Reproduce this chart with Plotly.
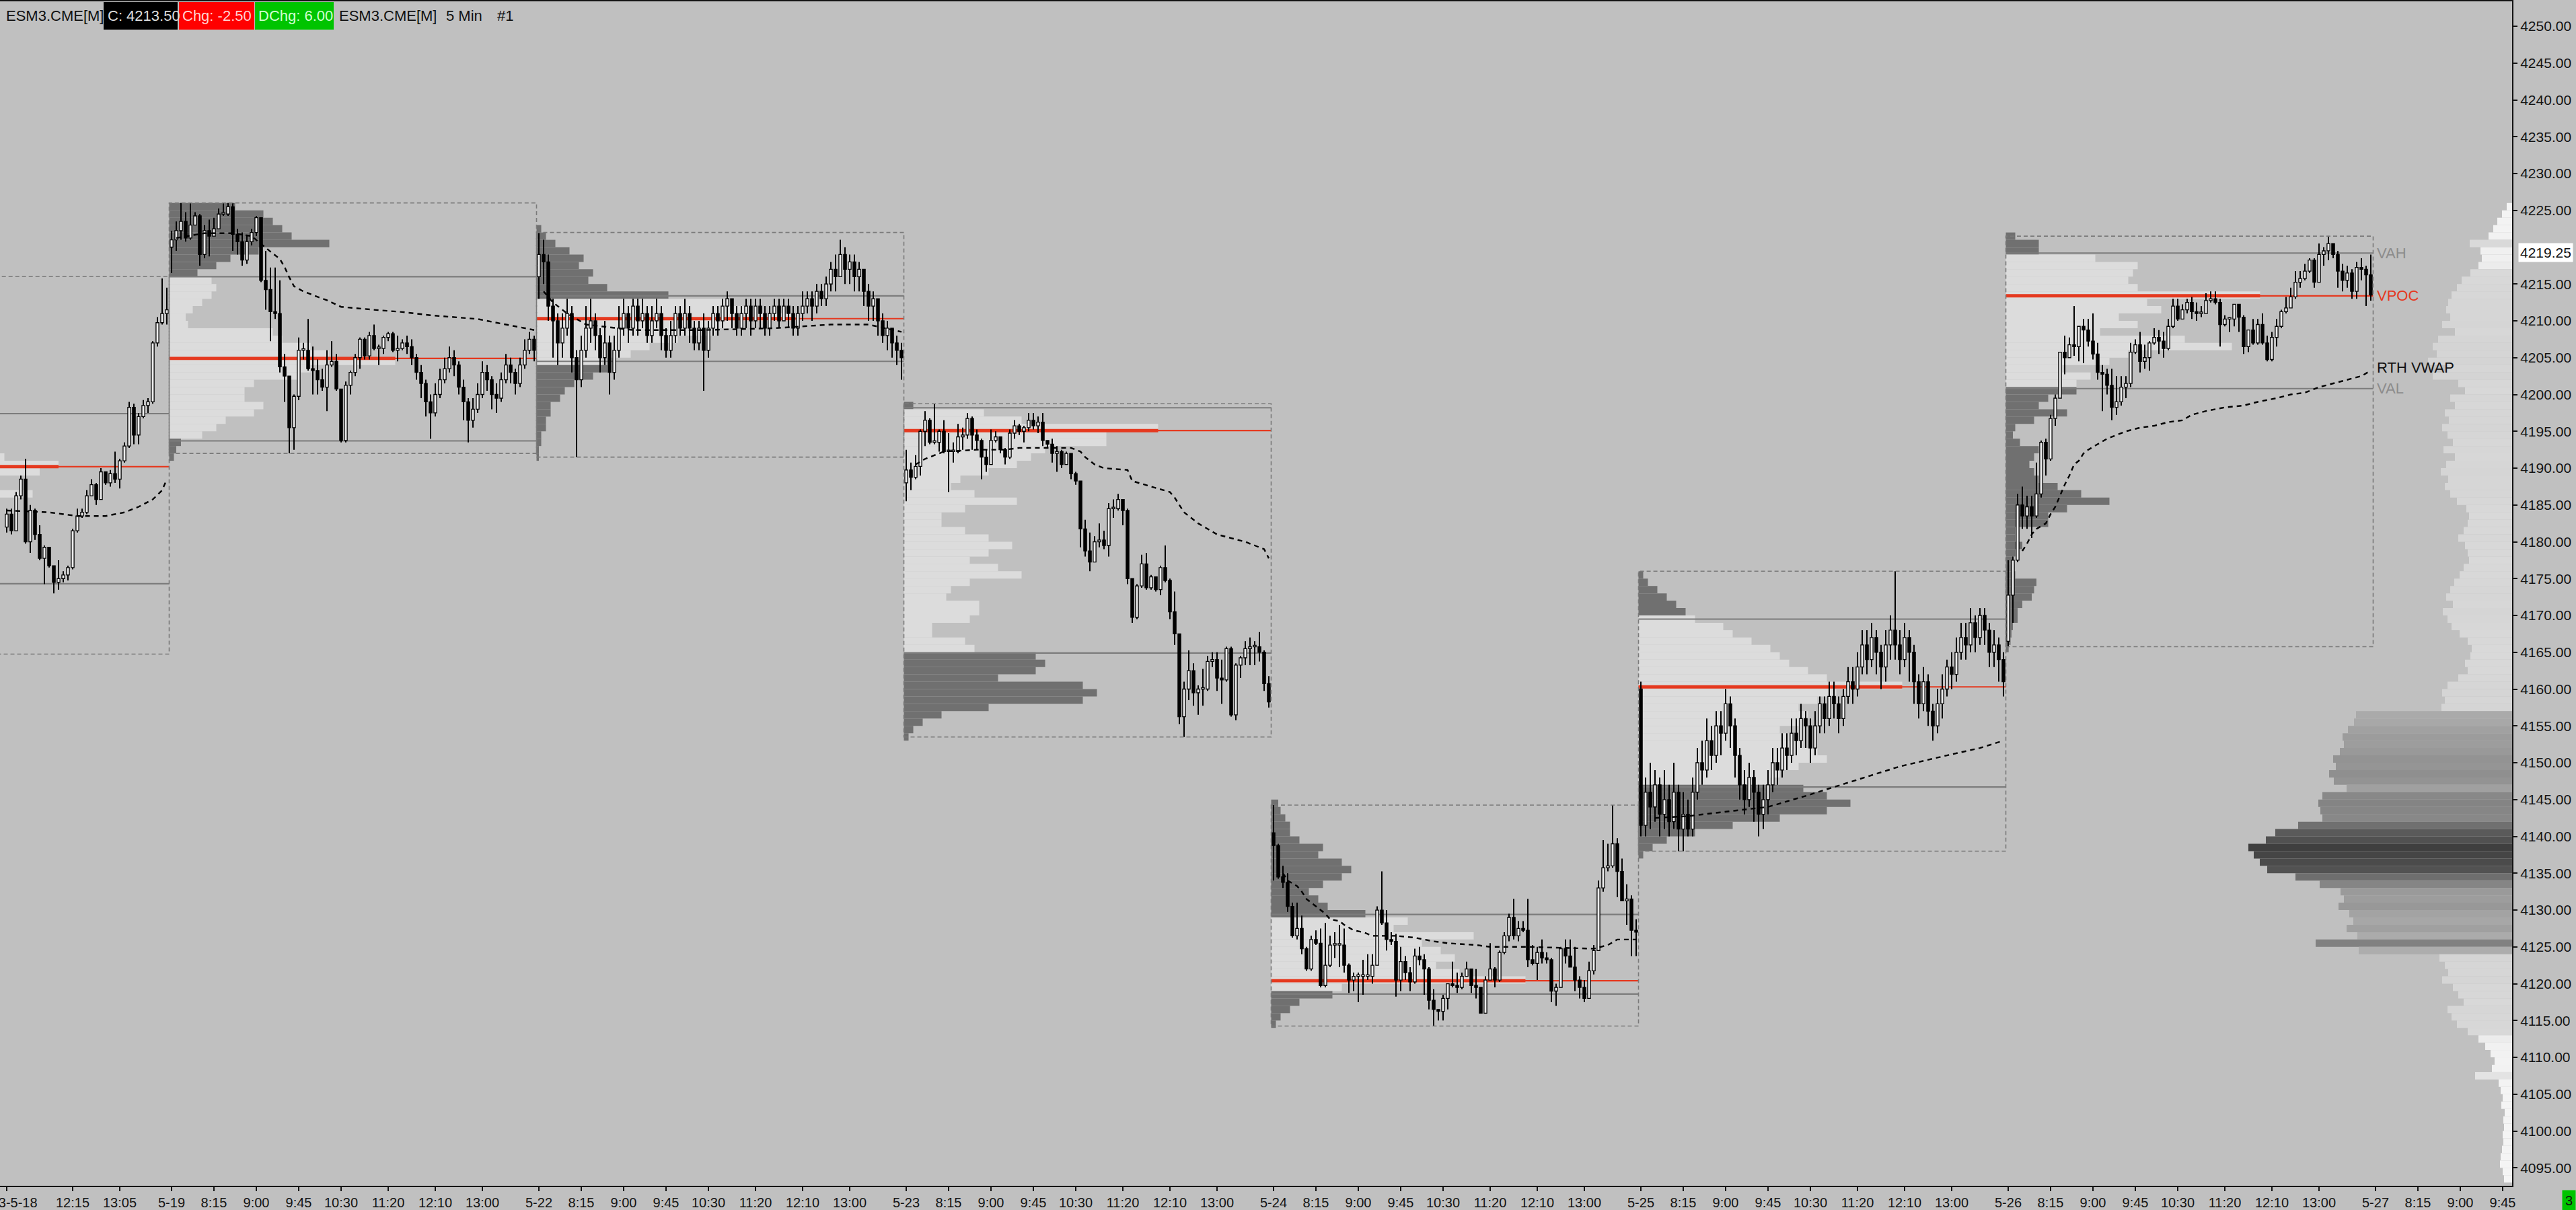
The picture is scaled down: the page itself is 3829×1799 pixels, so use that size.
import plotly.graph_objects as go

# ---------------------------------------------------------------- data
# x axis = 5-minute bar index, bar 0 = 2023-05-19 07:30 (RTH 07:30-14:00, 78 bars per session)
sess_label = ["5-18", "5-19", "5-22", "5-23", "5-24", "5-25", "5-26"]
sess_start = [-78, 0, 78, 156, 234, 312, 390]

# 5-18 (only 11:05-13:55 visible, bars -35..-1)
open0_0518 = 4182.0
close_0518 = [4183.75, 4181.5, 4186.25, 4188.5, 4180.0, 4184.25, 4181.0, 4177.75, 4179.25, 4176.75, 4174.5, 4175.0,
              4175.5, 4176.5, 4181.5, 4183.5, 4184.0, 4186.25, 4187.75, 4185.75, 4189.5, 4188.0, 4189.25, 4188.5,
              4191.0, 4193.0, 4198.25, 4194.5, 4197.0, 4198.5, 4199.0, 4207.0, 4209.75, 4211.0, 4211.5]
high_0518 = [4184.5, 4184.5, 4186.75, 4189.0, 4191.25, 4185.0, 4184.5, 4182.25, 4179.5, 4179.25, 4176.75, 4177.5,
             4176.0, 4176.75, 4181.75, 4184.5, 4184.5, 4187.0, 4188.5, 4188.0, 4190.0, 4189.5, 4189.75, 4192.25,
             4191.25, 4193.5, 4199.0, 4198.75, 4197.5, 4199.25, 4199.5, 4207.25, 4210.5, 4215.75, 4214.5]
low_0518 = [4181.25, 4181.0, 4181.5, 4185.75, 4179.75, 4178.5, 4180.25, 4177.5, 4174.25, 4176.5, 4173.0, 4173.5,
            4174.5, 4174.75, 4176.25, 4181.25, 4183.25, 4183.75, 4186.25, 4185.0, 4185.75, 4187.75, 4187.5, 4188.0,
            4187.25, 4190.75, 4192.75, 4193.25, 4193.25, 4196.75, 4197.5, 4198.75, 4206.5, 4209.5, 4209.5]

open0_0519 = 4220.0
close_0519 = [4221.0, 4222.25, 4223.5, 4221.25, 4223.0, 4224.25, 4219.0, 4222.25, 4221.5, 4222.5,
              4224.5, 4224.5, 4225.5, 4221.75, 4220.75, 4218.25, 4220.75, 4222.0, 4224.0, 4215.5,
              4214.25, 4211.25, 4211.0, 4203.75, 4202.5, 4195.5, 4199.75, 4206.0, 4206.0, 4203.5,
              4203.25, 4202.0, 4201.0, 4204.0, 4204.5, 4200.75, 4193.75, 4201.25, 4203.0, 4205.0,
              4207.5, 4205.25, 4208.0, 4206.25, 4206.25, 4207.75, 4208.25, 4206.0, 4206.25, 4207.0,
              4206.5, 4205.0, 4203.0, 4201.5, 4199.0, 4197.5, 4200.0, 4202.0, 4203.5, 4205.0,
              4204.0, 4201.0, 4199.0, 4196.5, 4198.0, 4200.0, 4203.0, 4202.0, 4200.0, 4199.5,
              4202.0, 4204.0, 4203.0, 4201.5, 4204.0, 4206.0, 4207.5, 4206.0]
high_0519 = [4222.25, 4223.5, 4226.0, 4224.75, 4226.0, 4224.75, 4224.5, 4223.0, 4223.75, 4224.0,
             4225.25, 4226.0, 4226.0, 4226.0, 4222.5, 4222.0, 4221.5, 4222.5, 4224.25, 4224.0,
             4219.5, 4217.25, 4217.25, 4215.5, 4205.5, 4202.5, 4200.0, 4207.75, 4207.0, 4210.25,
             4206.5, 4204.75, 4203.5, 4206.0, 4207.25, 4205.5, 4200.5, 4201.75, 4203.25, 4205.5,
             4207.75, 4207.75, 4208.5, 4209.5, 4206.75, 4208.0, 4208.5, 4208.5, 4208.0, 4207.5,
             4208.0, 4207.5, 4205.5, 4204.0, 4202.0, 4200.0, 4201.5, 4203.5, 4205.0, 4206.5,
             4206.0, 4204.5, 4202.0, 4199.5, 4199.5, 4201.5, 4204.5, 4204.0, 4202.5, 4201.5,
             4203.0, 4205.5, 4205.0, 4203.5, 4205.0, 4207.5, 4208.5, 4208.0]
low_0519 = [4216.5, 4219.5, 4221.0, 4220.75, 4221.0, 4223.0, 4217.5, 4218.5, 4218.75, 4222.0,
            4223.0, 4224.25, 4224.25, 4219.5, 4219.0, 4217.5, 4217.75, 4220.25, 4221.5, 4215.25,
            4211.5, 4207.25, 4210.25, 4203.0, 4199.0, 4192.0, 4192.5, 4199.25, 4204.75, 4203.25,
            4200.0, 4200.0, 4200.5, 4197.75, 4203.75, 4200.5, 4193.5, 4193.5, 4200.0, 4202.5,
            4203.5, 4204.75, 4204.75, 4206.0, 4204.0, 4205.5, 4207.25, 4205.75, 4204.5, 4206.0,
            4205.5, 4204.0, 4202.0, 4199.5, 4197.0, 4194.0, 4197.0, 4199.5, 4201.5, 4203.0,
            4202.5, 4200.0, 4196.5, 4193.5, 4195.5, 4197.5, 4199.5, 4200.5, 4198.0, 4197.5,
            4199.0, 4201.5, 4201.5, 4200.0, 4201.0, 4203.5, 4205.5, 4204.5]

open0_0522 = 4216.0
close_0522 = [4219, 4218, 4212, 4210, 4207, 4209, 4211, 4205, 4202, 4206,
              4209, 4210, 4208, 4205, 4207, 4203, 4206, 4209, 4211, 4209,
              4212, 4210, 4211, 4208, 4210, 4211, 4208, 4206, 4208, 4211,
              4209, 4211, 4209, 4207, 4209, 4206, 4209, 4211, 4210, 4212,
              4213, 4211, 4209, 4211, 4212, 4210, 4212, 4211, 4209, 4211,
              4212, 4210, 4212, 4211, 4209, 4211, 4212, 4213, 4212, 4214,
              4213, 4215, 4217, 4216, 4219, 4217, 4218, 4216, 4217, 4214,
              4212, 4213, 4210, 4208, 4209, 4207, 4206, 4205]
high_0522 = [4222, 4221, 4219, 4213, 4211, 4211, 4213, 4212, 4206, 4208,
             4212, 4213, 4211, 4209, 4210, 4208, 4208, 4212, 4213, 4212,
             4213, 4213, 4213, 4212, 4212, 4213, 4212, 4209, 4210, 4212,
             4212, 4213, 4212, 4210, 4210, 4211, 4210, 4212, 4212, 4213,
             4214, 4213, 4212, 4212, 4213, 4213, 4213, 4213, 4212, 4212,
             4213, 4213, 4213, 4213, 4212, 4212, 4214, 4214, 4214, 4215,
             4215, 4216, 4218, 4219, 4221, 4220, 4219, 4219, 4218, 4217,
             4215, 4214, 4213, 4211, 4210, 4209, 4208, 4207]
low_0522 = [4213, 4215, 4210, 4205, 4204, 4205, 4208, 4203, 4191.5, 4201,
            4205, 4207, 4206, 4203, 4204, 4200, 4202, 4205, 4208, 4207,
            4208, 4208, 4209, 4207, 4207, 4209, 4206, 4205, 4205, 4207,
            4208, 4208, 4207, 4206, 4206, 4200.5, 4205, 4208, 4208, 4209,
            4210, 4209, 4208, 4208, 4209, 4208, 4209, 4209, 4208, 4208,
            4210, 4209, 4210, 4209, 4208, 4208, 4210, 4211, 4210, 4211,
            4212, 4212, 4214, 4214, 4216, 4215, 4215, 4214, 4214, 4212,
            4210, 4210, 4208, 4207, 4206, 4205, 4204, 4202]

open0_0523 = 4188.0
close_0523 = [4189.75, 4188.75, 4190.25, 4195.0, 4196.5, 4193.5, 4193.5, 4195.0, 4192.25, 4192.25,
              4192.25, 4194.25, 4194.5, 4196.75, 4194.5, 4193.75, 4191.5, 4190.5, 4193.75, 4194.25,
              4192.5, 4191.5, 4194.75, 4195.75, 4195.0, 4195.5, 4196.5, 4195.75, 4196.25, 4193.75,
              4193.25, 4192.0, 4192.25, 4190.5, 4192.0, 4189.25, 4188.25, 4181.75, 4178.75, 4177.25,
              4180.0, 4180.25, 4179.5, 4184.5, 4184.5, 4185.75, 4184.25, 4175.0, 4169.75, 4174.0,
              4177.0, 4173.75, 4175.25, 4173.5, 4176.5, 4174.75, 4170.5, 4167.5, 4156.25, 4160.0,
              4162.5, 4159.5, 4160.0, 4160.0, 4163.75, 4164.0, 4161.5, 4161.25, 4165.5, 4156.5,
              4163.25, 4164.25, 4165.5, 4165.75, 4165.75, 4165.0, 4160.75, 4158.25]
high_0523 = [4192.5, 4190.75, 4191.75, 4195.25, 4197.75, 4196.75, 4198.75, 4195.25, 4196.5, 4194.75,
             4193.5, 4196.0, 4195.5, 4197.5, 4197.0, 4195.25, 4194.0, 4192.5, 4195.25, 4195.0,
             4194.25, 4192.75, 4195.25, 4196.5, 4196.0, 4195.75, 4197.5, 4197.5, 4197.0, 4197.5,
             4193.5, 4194.0, 4193.0, 4192.5, 4192.25, 4191.75, 4189.5, 4188.25, 4183.0, 4181.25,
             4180.75, 4182.5, 4181.5, 4185.25, 4185.75, 4186.5, 4185.75, 4184.5, 4174.75, 4174.25,
             4178.25, 4178.5, 4175.5, 4175.25, 4176.75, 4179.5, 4175.0, 4173.25, 4167.25, 4161.0,
             4165.25, 4163.5, 4160.5, 4162.75, 4164.5, 4165.0, 4165.0, 4164.0, 4165.75, 4165.75,
             4163.5, 4164.5, 4166.5, 4167.0, 4166.5, 4167.75, 4165.25, 4161.75]
low_0523 = [4185.5, 4187.0, 4188.5, 4189.0, 4193.0, 4193.25, 4193.25, 4192.25, 4192.0, 4186.75,
            4190.75, 4192.0, 4192.5, 4194.0, 4192.5, 4192.5, 4188.5, 4189.5, 4190.5, 4193.5,
            4192.0, 4190.5, 4191.25, 4194.0, 4194.5, 4193.5, 4195.0, 4195.25, 4194.75, 4193.0,
            4192.75, 4190.75, 4189.5, 4190.0, 4190.5, 4188.5, 4187.75, 4179.25, 4178.0, 4176.0,
            4177.25, 4179.25, 4179.0, 4178.0, 4183.25, 4184.25, 4182.25, 4174.25, 4169.0, 4169.5,
            4173.75, 4173.5, 4173.5, 4173.25, 4172.75, 4174.5, 4169.5, 4166.0, 4155.25, 4153.5,
            4158.5, 4157.75, 4156.5, 4157.75, 4159.75, 4163.0, 4159.75, 4158.0, 4161.0, 4156.25,
            4155.75, 4161.5, 4163.25, 4163.25, 4163.25, 4163.75, 4159.75, 4157.5]

open0_0524 = 4140.5
close_0524 = [4138.75, 4134.5, 4133.75, 4130.5, 4126.5, 4127.5, 4124.75, 4122.0, 4126.0, 4125.5,
              4119.75, 4122.5, 4125.25, 4125.25, 4125.25, 4122.5, 4120.5, 4121.0, 4121.0, 4121.0,
              4121.0, 4122.5, 4130.0, 4128.25, 4126.0, 4125.75, 4120.5, 4123.0, 4121.5, 4120.25,
              4123.75, 4123.25, 4122.0, 4117.75, 4116.5, 4116.25, 4118.0, 4120.0, 4119.75, 4119.5,
              4121.0, 4122.0, 4119.75, 4119.5, 4116.0, 4120.5, 4122.0, 4120.5, 4124.25, 4126.5,
              4129.0, 4126.5, 4127.5, 4127.25, 4123.25, 4122.75, 4124.25, 4123.5, 4123.25, 4119.0,
              4119.5, 4124.75, 4123.75, 4122.25, 4120.5, 4119.5, 4118.0, 4121.75, 4124.5, 4133.0,
              4135.75, 4136.0, 4139.0, 4135.25, 4131.25, 4131.5, 4127.25, 4127.0]
high_0524 = [4144.25, 4139.0, 4136.0, 4135.0, 4131.0, 4131.0, 4129.25, 4125.0, 4126.5, 4127.25,
             4127.5, 4128.25, 4126.5, 4127.0, 4128.0, 4127.5, 4122.75, 4121.5, 4121.5, 4123.25,
             4124.0, 4124.0, 4130.5, 4135.25, 4130.0, 4127.0, 4126.75, 4125.0, 4123.75, 4122.25,
             4124.75, 4125.0, 4124.0, 4122.25, 4119.25, 4116.25, 4118.5, 4120.0, 4123.0, 4121.5,
             4121.5, 4123.0, 4122.0, 4122.0, 4119.5, 4121.0, 4125.5, 4122.25, 4124.5, 4127.0,
             4129.5, 4131.5, 4128.5, 4128.5, 4131.5, 4125.25, 4125.0, 4126.0, 4124.25, 4123.5,
             4120.0, 4125.0, 4126.0, 4126.0, 4125.0, 4121.0, 4120.5, 4123.0, 4125.25, 4134.0,
             4139.5, 4139.0, 4144.25, 4139.75, 4137.0, 4133.5, 4132.0, 4128.75]
low_0524 = [4134.0, 4134.25, 4133.0, 4129.75, 4126.25, 4126.0, 4124.0, 4121.75, 4121.75, 4125.25,
            4119.5, 4119.5, 4122.25, 4123.5, 4122.25, 4121.5, 4118.75, 4119.0, 4117.5, 4118.5,
            4120.5, 4120.0, 4122.5, 4128.0, 4124.5, 4125.25, 4118.25, 4119.0, 4120.5, 4119.0,
            4120.0, 4122.5, 4118.5, 4116.5, 4114.25, 4115.0, 4115.0, 4116.5, 4119.5, 4118.75,
            4119.25, 4121.25, 4118.75, 4118.0, 4116.0, 4116.0, 4120.5, 4119.5, 4120.25, 4124.0,
            4125.75, 4126.0, 4125.75, 4127.0, 4122.25, 4122.5, 4120.5, 4122.75, 4122.75, 4117.5,
            4117.0, 4120.0, 4122.75, 4122.25, 4119.0, 4118.0, 4117.5, 4118.0, 4121.25, 4124.5,
            4132.5, 4135.25, 4135.75, 4131.75, 4131.25, 4128.0, 4123.75, 4123.75]

open0_0525 = 4160.0
close_0525 = [4141.5, 4146, 4144, 4147, 4143, 4145, 4142, 4146, 4141, 4143,
              4141, 4146, 4150, 4149, 4153, 4151, 4155, 4154, 4158, 4155,
              4151, 4147, 4145, 4148, 4146, 4143, 4145, 4147, 4150, 4149,
              4152, 4151, 4154, 4153, 4156, 4155, 4152, 4155, 4158, 4156,
              4159, 4158, 4156, 4159, 4161, 4160, 4163, 4166, 4164, 4167,
              4165, 4163, 4166, 4168, 4166, 4164, 4167, 4165, 4161, 4158,
              4161, 4157, 4155, 4158, 4160, 4163, 4162, 4165, 4167, 4166,
              4169, 4167, 4170, 4168, 4165, 4166, 4164, 4161]
high_0525 = [4161, 4148, 4150, 4149, 4148, 4149, 4147, 4150, 4147, 4146,
             4145, 4148, 4152, 4153, 4156, 4155, 4157, 4157, 4160, 4159,
             4156, 4152, 4149, 4150, 4149, 4147, 4147, 4149, 4152, 4152,
             4154, 4154, 4156, 4156, 4158, 4157, 4156, 4157, 4159, 4159,
             4161, 4161, 4159, 4160, 4163, 4163, 4165, 4168, 4168, 4169,
             4168, 4166, 4168, 4170, 4176, 4168, 4169, 4168, 4166, 4162,
             4163, 4162, 4158, 4160, 4162, 4164, 4165, 4167, 4169, 4169,
             4171, 4170, 4171, 4171, 4169, 4168, 4167, 4165]
low_0525 = [4140, 4140, 4141, 4142, 4140, 4141, 4140, 4141, 4138, 4138,
            4140, 4140, 4145, 4147, 4148, 4149, 4150, 4151, 4153, 4152,
            4148, 4145, 4143, 4144, 4142, 4140, 4141, 4143, 4146, 4147,
            4148, 4149, 4150, 4151, 4152, 4152, 4150, 4151, 4154, 4154,
            4155, 4156, 4154, 4155, 4158, 4158, 4159, 4162, 4162, 4163,
            4162, 4160, 4161, 4164, 4164, 4162, 4163, 4161, 4158, 4156,
            4157, 4155, 4153, 4154, 4156, 4159, 4160, 4161, 4164, 4164,
            4165, 4165, 4166, 4166, 4163, 4163, 4161, 4159]

open0_0526 = 4166.5
close_0526 = [4172.75, 4177.5, 4185.0, 4183.5, 4184.75, 4183.5, 4186.5, 4193.5, 4191.25, 4196.75,
              4199.5, 4205.75, 4205.0, 4206.75, 4206.5, 4209.25, 4208.75, 4207.25, 4205.5, 4203.0,
              4202.75, 4201.25, 4198.25, 4199.0, 4201.0, 4201.5, 4205.75, 4206.75, 4204.5, 4205.0,
              4207.0, 4207.75, 4207.25, 4206.25, 4209.25, 4212.0, 4210.25, 4211.5, 4212.5, 4211.25,
              4211.0, 4211.0, 4212.75, 4213.0, 4212.5, 4209.5, 4210.25, 4210.25, 4212.25, 4210.5,
              4206.5, 4208.75, 4207.0, 4209.5, 4207.0, 4204.75, 4207.75, 4209.25, 4211.25, 4211.75,
              4213.25, 4215.25, 4215.75, 4216.75, 4218.25, 4215.25, 4219.0, 4219.5, 4220.5, 4219.0,
              4216.75, 4215.5, 4216.5, 4214.0, 4217.25, 4217.0, 4216.25, 4213.5]
high_0526 = [4177.5, 4178.0, 4186.5, 4187.5, 4186.25, 4186.25, 4190.75, 4193.75, 4194.0, 4197.25,
             4200.0, 4205.75, 4208.0, 4207.75, 4212.0, 4209.25, 4210.25, 4210.25, 4211.0, 4207.0,
             4204.0, 4203.5, 4203.5, 4202.5, 4202.5, 4202.5, 4207.0, 4207.5, 4208.5, 4206.75,
             4207.25, 4209.0, 4208.75, 4208.5, 4210.25, 4213.0, 4213.0, 4212.25, 4213.0, 4213.25,
             4212.5, 4212.0, 4213.75, 4214.0, 4214.0, 4213.0, 4210.75, 4210.5, 4212.25, 4212.25,
             4210.75, 4208.75, 4210.25, 4210.25, 4211.0, 4208.0, 4208.5, 4210.25, 4211.5, 4213.25,
             4214.5, 4216.75, 4216.75, 4217.75, 4218.5, 4218.5, 4220.5, 4220.0, 4221.5, 4220.5,
             4219.5, 4217.75, 4217.5, 4217.0, 4218.0, 4218.5, 4217.5, 4219.0]
low_0526 = [4165.75, 4169.0, 4177.25, 4181.75, 4181.75, 4180.5, 4183.25, 4186.0, 4189.0, 4191.0,
            4195.75, 4199.5, 4202.75, 4205.0, 4205.25, 4204.5, 4204.25, 4206.5, 4204.75, 4202.0,
            4197.75, 4200.0, 4196.5, 4197.25, 4198.5, 4199.5, 4201.0, 4205.5, 4203.0, 4203.5,
            4203.25, 4206.75, 4205.5, 4205.0, 4206.0, 4209.0, 4210.0, 4210.25, 4211.0, 4210.25,
            4210.0, 4210.5, 4211.0, 4212.5, 4212.25, 4206.5, 4209.25, 4208.5, 4209.25, 4208.5,
            4205.5, 4205.75, 4206.75, 4206.75, 4206.75, 4204.5, 4204.5, 4206.5, 4209.0, 4211.0,
            4211.75, 4213.0, 4214.5, 4215.5, 4216.5, 4214.5, 4215.25, 4217.5, 4218.25, 4218.5,
            4214.5, 4214.0, 4214.5, 4213.0, 4213.0, 4215.5, 4212.0, 4212.75]

# session value area / volume point of control
vah = [4197.4, 4216.0, 4213.4, 4198.2, 4129.4, 4169.5, 4219.2]
vpoc = [4190.2, 4204.9, 4210.3, 4195.1, 4120.4, 4160.3, 4213.4]
val = [4174.3, 4193.7, 4204.5, 4164.9, 4118.6, 4146.7, 4200.8]
box_0518 = [4164.75, 4216.0]

# session volume profiles, 1-point rows, width in bars
prof_lv_0518 = [4191, 4190, 4189, 4186]
prof_w_0518 = [43, 54.5, 50.5, 49]
prof_lv_0519 = list(range(4225, 4190, -1))
prof_w_0519 = [14, 20, 22, 24, 26, 34, 19, 13, 10, 6, 9, 10, 9, 7, 5, 3.5, 4, 22, 24, 30,
               34, 48, 30, 28, 18, 16, 16, 20, 18, 12, 10, 7, 2.5, 1.5, 1]
prof_lv_0522 = list(range(4222, 4190, -1))
prof_w_0522 = [1, 2, 4, 7, 10, 9, 12, 11, 15, 28, 40, 47, 55, 44, 38, 30, 24, 20,
               14, 15, 12, 8, 6, 5, 3, 3, 2, 2, 1, 1, 0.5, 0.5]
prof_lv_0523 = list(range(4198, 4152, -1))
prof_w_0523 = [2, 17, 25, 54, 43, 43, 30, 27, 24, 18, 12, 10, 15, 24, 13, 8, 8, 13, 18, 23,
               18, 14, 20, 25, 14, 10, 9, 16, 16, 14, 6, 6, 13, 15, 28, 30, 28, 20, 38, 41,
               38, 18, 8, 4, 2, 1]
prof_lv_0524 = list(range(4144, 4113, -1))
prof_w_0524 = [1.5, 2, 3, 4, 4, 6, 11, 10, 15, 17, 15, 11, 8, 10, 12, 20, 29, 26, 43, 32,
               36, 39, 35, 40, 54, 15, 13, 6, 4, 2, 1]
prof_lv_0525 = list(range(4175, 4136, -1))
prof_w_0525 = [1, 2, 4, 6, 8, 10, 12, 18, 20, 24, 28, 30, 32, 36, 40, 56, 42, 38, 34, 36,
               34, 30, 32, 35, 38, 40, 34, 30, 28, 35, 40, 45, 40, 30, 20, 12, 6, 3, 1]
prof_lv_0526 = list(range(4221, 4164, -1))
prof_w_0526 = [2, 7, 7, 19, 28, 27, 26, 28, 54, 30, 33, 24, 28, 20, 38, 48, 26, 22, 12, 18,
               15, 15, 9, 7, 13, 6, 2, 1.5, 3, 7, 6, 5, 6, 7, 11, 16, 22, 13, 9, 9,
               2, 2, 3.5, 2, 1.5, 1.5, 2, 6.5, 6, 5.5, 3.5, 2.5, 2.5, 1.5, 1.2, 1, 0.6]

# composite profile on the right edge (volume, pixel-ish units)
comp_lv = list(range(4225, 4092, -1))
comp_vol = [8, 15, 22, 28, 35, 63, 47, 45, 50, 62, 75, 82, 90, 95, 98, 92, 104, 85, 110, 118,
            112, 125, 98, 118, 80, 70, 92, 85, 100, 94, 104, 96, 88, 102, 85, 98, 106, 95, 100, 92,
            82, 68, 64, 66, 72, 80, 70, 66, 64, 72, 78, 86, 92, 98, 88, 103, 96, 90, 78, 66,
            60, 62, 70, 66, 80, 96, 104, 100, 105, 232, 235, 244, 252, 250, 256, 266, 262, 272, 265, 246,
            282, 288, 285, 282, 318, 352, 366, 392, 384, 375, 364, 322, 286, 255, 250, 258, 242, 236, 246, 230,
            292, 228, 108, 100, 95, 104, 88, 80, 72, 96, 90, 82, 66, 50, 40, 32, 26, 30, 55, 20,
            17, 14, 16, 11, 13, 12, 14, 13, 15, 17, 18, 14, 12]

# RTH VWAP, (bar in session, value)
vwap_x_0518 = [-35, -26, -23, -20, -14, -10, -7, -4, -2, -1]
vwap_y_0518 = [4184.25, 4184.0, 4183.75, 4183.5, 4183.5, 4184.0, 4184.75, 4185.75, 4187.0, 4188.5]
vwap_x_0519 = [1, 7, 13, 17, 21, 23, 24, 25, 26, 28, 30, 33, 36, 39, 43, 49, 55, 65, 77]
vwap_y_0519 = [4221.25, 4221.9, 4221.9, 4221.5, 4219.4, 4218.4, 4217.3, 4215.9, 4214.7, 4214.0,
               4213.5, 4212.8, 4211.9, 4211.7, 4211.5, 4211.2, 4210.75, 4210.25, 4208.75]
vwap_x_0522 = [1, 3, 6, 10, 20, 35, 50, 62, 70, 77]
vwap_y_0522 = [4214.0, 4212.5, 4211.0, 4209.5, 4208.75, 4208.75, 4209.0, 4209.5, 4209.5, 4208.5]
vwap_x_0523 = [2, 4, 8, 15, 21, 24, 35, 37, 38, 40, 42, 47, 48, 52, 56, 57, 58, 59, 62, 64,
               66, 69, 72, 74, 76, 77]
vwap_y_0523 = [4190.5, 4191.25, 4192.25, 4192.5, 4192.5, 4192.75, 4192.75, 4192.25, 4191.5, 4190.5,
               4190.0, 4189.75, 4188.25, 4187.5, 4186.75, 4186.0, 4185.0, 4184.0, 4182.5, 4181.75,
               4181.0, 4180.5, 4180.0, 4179.5, 4179.0, 4177.75]
vwap_x_0524 = [2, 3, 5, 6, 7, 9, 11, 12, 14, 15, 17, 19, 21, 26, 30, 34, 37, 43, 46, 54, 67, 68, 71, 73, 77]
vwap_y_0524 = [4135.0, 4134.0, 4133.25, 4132.5, 4131.5, 4130.5, 4129.5, 4128.75, 4128.5, 4128.0,
               4127.25, 4127.0, 4126.5, 4126.5, 4126.25, 4125.75, 4125.5, 4125.25, 4125.0, 4125.0,
               4124.75, 4124.75, 4125.25, 4126.0, 4126.0]
vwap_x_0525 = [3, 10, 20, 27, 35, 45, 55, 65, 72, 77]
vwap_y_0525 = [4142.5, 4142.75, 4143.5, 4144.0, 4145.5, 4147.5, 4149.5, 4151.0, 4152.0, 4153.0]
vwap_x_0526 = [3, 4, 5, 6, 8, 9, 10, 11, 12, 13, 14, 15, 16, 17, 19, 21, 23, 25, 28, 31,
               34, 37, 39, 42, 46, 50, 53, 57, 60, 63, 66, 69, 72, 75, 77]
vwap_y_0526 = [4178.75, 4179.75, 4181.0, 4181.75, 4182.5, 4183.75, 4184.75, 4186.25, 4187.75, 4189.0,
               4190.5, 4191.0, 4192.0, 4192.5, 4193.25, 4194.0, 4194.5, 4195.0, 4195.5, 4195.75,
               4196.25, 4196.5, 4197.25, 4197.75, 4198.25, 4198.5, 4199.0, 4199.5, 4200.0, 4200.25,
               4201.0, 4201.5, 4202.0, 4202.5, 4203.25]

# x axis labels
tick_times = ["8:15", "9:00", "9:45", "10:30", "11:20", "12:10", "13:00"]
tick_offsets = [9, 18, 27, 36, 46, 56, 66]

# ---------------------------------------------------------------- styling
BG = "#c0c0c0"
AX = "#141414"
FONT = "Liberation Sans, Arial, sans-serif"
PROF_IN = "#dcdcdc"
PROF_OUT = "#707070"
RED = "#e5391f"
LINE_GRAY = "#7c7c7c"
XMIN, XMAX = -36.43, 497.0
YMIN, YMAX = 4092.56, 4253.38
PLOT_W, PLOT_H = 3734, 1761

candles = [
    (-35, open0_0518, close_0518, high_0518, low_0518),
    (0, open0_0519, close_0519, high_0519, low_0519),
    (78, open0_0522, close_0522, high_0522, low_0522),
    (156, open0_0523, close_0523, high_0523, low_0523),
    (234, open0_0524, close_0524, high_0524, low_0524),
    (312, open0_0525, close_0525, high_0525, low_0525),
    (390, open0_0526, close_0526, high_0526, low_0526),
]
profiles = [
    (prof_lv_0518, prof_w_0518), (prof_lv_0519, prof_w_0519), (prof_lv_0522, prof_w_0522),
    (prof_lv_0523, prof_w_0523), (prof_lv_0524, prof_w_0524), (prof_lv_0525, prof_w_0525),
    (prof_lv_0526, prof_w_0526),
]
vwaps = [
    (vwap_x_0518, vwap_y_0518), (vwap_x_0519, vwap_y_0519), (vwap_x_0522, vwap_y_0522),
    (vwap_x_0523, vwap_y_0523), (vwap_x_0524, vwap_y_0524), (vwap_x_0525, vwap_y_0525),
    (vwap_x_0526, vwap_y_0526),
]

fig = go.Figure()

# session profiles
py, px_, pb, pc = [], [], [], []
poc_y, poc_x, poc_b = [], [], []
for k, (lv, w) in enumerate(profiles):
    st = sess_start[k] - 0.5
    for L, wd in zip(lv, w):
        mid = L + 0.5
        py.append(mid)
        px_.append(wd)
        pb.append(st)
        pc.append(PROF_IN if val[k] <= mid <= vah[k] else PROF_OUT)
    poc_y.append(vpoc[k])
    poc_x.append(w[lv.index(int(vpoc[k]))])
    poc_b.append(st)

fig.add_trace(go.Bar(orientation="h", y=py, x=px_, base=pb, width=1.0,
                     marker=dict(color=pc, line=dict(width=0)), hoverinfo="skip"))
fig.add_trace(go.Bar(orientation="h", y=poc_y, x=poc_x, base=poc_b, width=0.45,
                     marker=dict(color=RED, line=dict(width=0)), hoverinfo="skip"))

# composite profile anchored on the price axis
fig.add_trace(go.Bar(
    orientation="h", y=[L + 0.5 for L in comp_lv], x=[-v / 7.0 for v in comp_vol],
    base=[XMAX] * len(comp_vol), width=1.0,
    marker=dict(color=comp_vol, cmin=0, cmax=400,
                colorscale=[[0, "#f6f6f6"], [0.12, "#f0f0f0"], [0.15, "#d9d9d9"], [0.45, "#cfcfcf"],
                            [0.6, "#a4a4a4"], [0.75, "#7c7c7c"], [0.9, "#555555"], [1, "#3a3a3a"]],
                line=dict(width=0)),
    hoverinfo="skip"))

# VAH / VPOC / VAL lines (thin bars so the candles stay on top)
ly, lx, lb, lc = [], [], [], []
for k in range(len(sess_start)):
    for v, c in ((vah[k], LINE_GRAY), (val[k], LINE_GRAY), (vpoc[k], RED)):
        ly.append(v)
        lx.append(78)
        lb.append(sess_start[k] - 0.5)
        lc.append(c)
fig.add_trace(go.Bar(orientation="h", y=ly, x=lx, base=lb, width=0.2,
                     marker=dict(color=lc, line=dict(width=0)), hoverinfo="skip"))

# candles: wicks and bodies drawn as bars
cx, co, ch, cl, cc = [], [], [], [], []
for first, o0, cls, his, los in candles:
    prev = o0
    for j, (c, h, l) in enumerate(zip(cls, his, los)):
        o = prev
        cx.append(first + j)
        co.append(o)
        cc.append(c)
        ch.append(max(h, o, c))
        cl.append(min(l, o, c))
        prev = c

fig.add_trace(go.Bar(x=cx, y=[h - l for h, l in zip(ch, cl)], base=cl, width=0.2,
                     marker=dict(color="#000000", line=dict(width=0)), hoverinfo="skip"))
for rising, fill in ((True, "#ededed"), (False, "#000000")):
    idx = [j for j in range(len(cx)) if (cc[j] >= co[j]) == rising]
    fig.add_trace(go.Bar(
        x=[cx[j] for j in idx],
        y=[max(abs(cc[j] - co[j]), 0.2) for j in idx],
        base=[min(cc[j], co[j]) for j in idx],
        width=0.6, marker=dict(color=fill, line=dict(color="#000000", width=1.3)), hoverinfo="skip"))

# VWAP
for k, (vx, vy) in enumerate(vwaps):
    off = 0 if k == 0 else sess_start[k]
    fig.add_trace(go.Scatter(x=[off + v for v in vx], y=vy, mode="lines",
                             line=dict(color="#000000", width=2.4, dash="7px,6px"), hoverinfo="skip"))

# session range boxes
for k in range(len(sess_start)):
    if k == 0:
        lo, hi = box_0518
    else:
        lo, hi = min(candles[k][4]), max(candles[k][3])
    fig.add_shape(type="rect", x0=sess_start[k] - 0.5, x1=sess_start[k] + 77.5, y0=lo, y1=hi,
                  line=dict(color="#7a7a7a", width=1.6, dash="6px,4px"), fillcolor="rgba(0,0,0,0)")

# x ticks
tv, tt = [-35, -21, -11], ["2023-5-18", "12:15", "13:05"]
for k in range(1, len(sess_start)):
    tv.append(sess_start[k])
    tt.append(sess_label[k])
    for off, lab in zip(tick_offsets, tick_times):
        tv.append(sess_start[k] + off)
        tt.append(lab)
tv += [468, 477, 486, 495]
tt += ["5-27", "8:15", "9:00", "9:45"]

yt = [v for v in range(4095, 4255, 5) if v != 4220]

fig.update_layout(
    width=3829, height=1799, margin=dict(l=0, r=95, t=2, b=36, autoexpand=False),
    paper_bgcolor=BG, plot_bgcolor=BG, showlegend=False, barmode="overlay", hovermode=False,
    font=dict(family=FONT, color=AX),
    xaxis=dict(range=[XMIN, XMAX], showgrid=False, zeroline=False, tickmode="array", tickvals=tv, ticktext=tt,
               ticks="outside", ticklen=6, tickwidth=1.5, tickcolor=AX, showline=True, linewidth=2,
               linecolor=AX, mirror=True, ticklabeloverflow="allow", automargin=False,
               tickfont=dict(family=FONT, size=20, color=AX)),
    yaxis=dict(range=[YMIN, YMAX], side="right", showgrid=False, zeroline=False, tickmode="array",
               tickvals=yt, ticktext=[f"{v:.2f}" for v in yt], ticks="outside", ticklen=6, tickwidth=1.5,
               tickcolor=AX, showline=True, linewidth=2, linecolor=AX, mirror=True, automargin=False,
               tickfont=dict(family=FONT, size=21, color=AX)),
)


def px_x(p):
    return p / PLOT_W


def px_y(p):
    return 1 - (p - 2) / PLOT_H


# header
for x0, x1, col in ((154, 264, "#000000"), (266, 378, "#ff0000"), (379, 496, "#00c400")):
    fig.add_shape(type="rect", xref="paper", yref="paper", x0=px_x(x0), x1=px_x(x1),
                  y0=px_y(44), y1=px_y(3), fillcolor=col, line=dict(width=0), layer="above")
head = [
    (7, "ESM3.CME[M]", "#111111"), (158, "C: 4213.50", "#dddddd"), (269, "Chg: -2.50", "#ffd0d0"),
    (382, "DChg: 6.00", "#d0ffd0"), (502, "ESM3.CME[M]", "#111111"), (661, "5 Min", "#111111"),
    (737, "#1", "#111111"),
]
for x, t, c in head:
    fig.add_annotation(xref="paper", yref="paper", x=px_x(x), y=px_y(23), text=t, showarrow=False,
                       xanchor="left", yanchor="middle", font=dict(family=FONT, size=22, color=c))

# labels at the right of the last session
for yv, t, c in ((vah[6], "VAH", "#8c8c8c"), (vpoc[6], "VPOC", RED), (4203.7, "RTH VWAP", "#111111"),
                 (val[6], "VAL", "#8c8c8c")):
    fig.add_annotation(x=468.0, y=yv, text=t, showarrow=False, xanchor="left", yanchor="middle",
                       font=dict(family=FONT, size=22, color=c))

# VAH price tag on the axis
fig.add_annotation(xref="paper", x=1.0, y=4219.25, text="4219.25", showarrow=False, xanchor="left",
                   yanchor="middle", xshift=9, bgcolor="#ffffff", borderpad=2,
                   font=dict(family=FONT, size=21, color="#111111"))

# bottom right badge
fig.add_annotation(xref="paper", yref="paper", x=px_x(3829), y=px_y(1785), text="3", showarrow=False,
                   xanchor="right", yanchor="middle", bgcolor="#00c400", borderpad=4,
                   font=dict(family=FONT, size=20, color="#111111"))

fig.write_html("out.html", config={"displayModeBar": False},
               post_script="document.body.style.margin='0';"
                           "document.body.style.background='#c0c0c0';")
